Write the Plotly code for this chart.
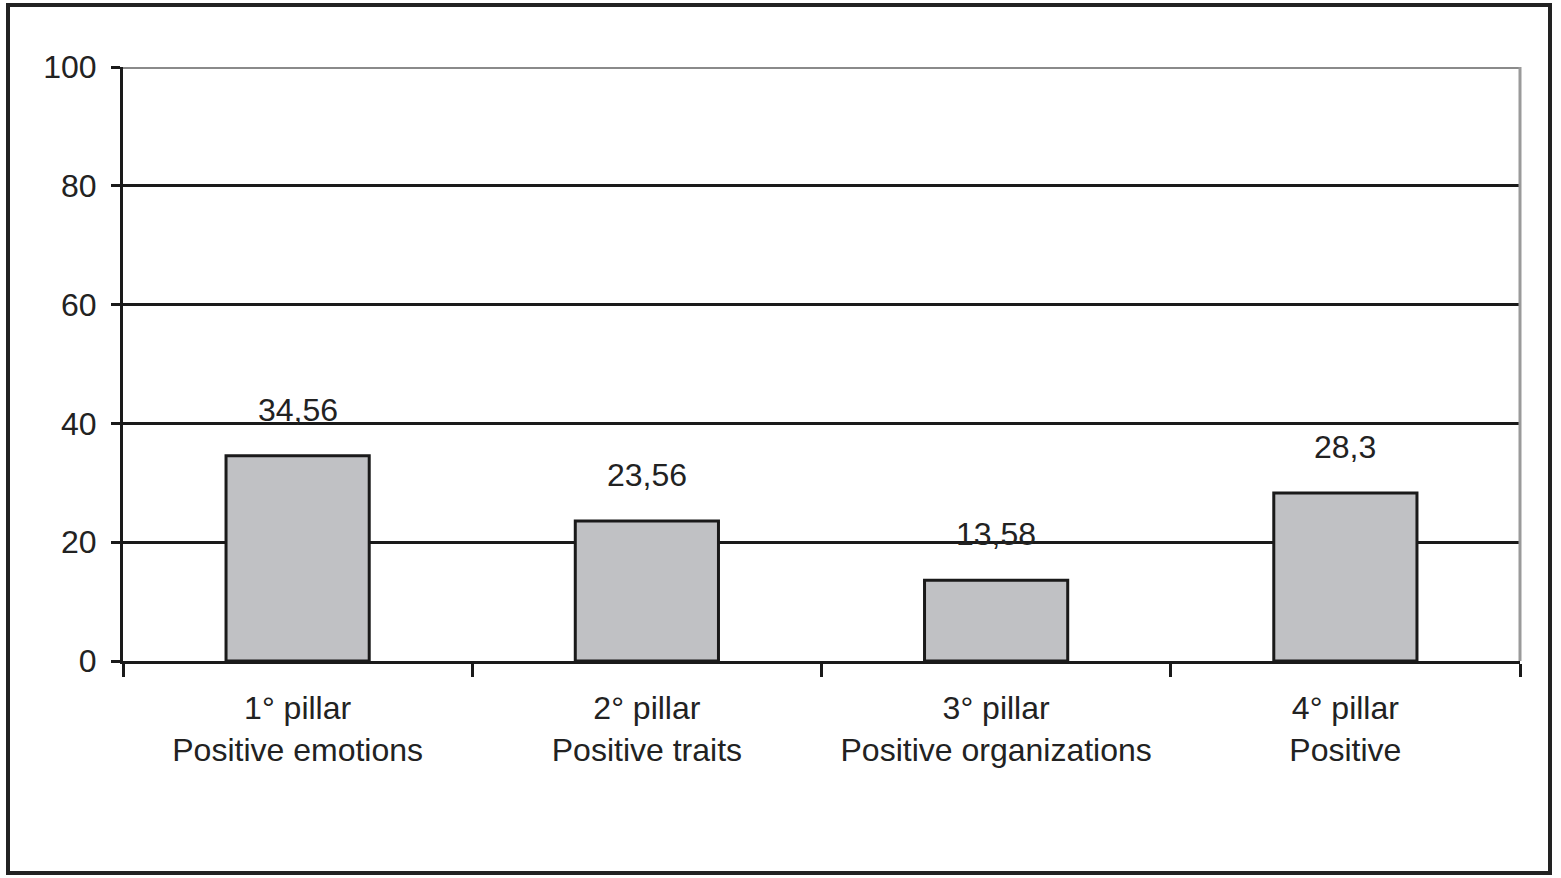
import plotly.graph_objects as go

categories = ["1° pillar<br>Positive emotions", "2° pillar<br>Positive traits",
              "3° pillar<br>Positive organizations", "4° pillar<br>Positive"]
values = [34.56, 23.56, 13.58, 28.3]
value_labels = ["34,56", "23,56", "13,58", "28,3"]
y_ticks = [0, 20, 40, 60, 80, 100]

W, H = 1561, 878
L, R, T, B = 123, 41, 67, 217
pw, ph = W - L - R, H - T - B

FONT = "Liberation Sans, Arial, sans-serif"
TXT = "#222222"
FS = 32

fig = go.Figure()
fig.add_trace(go.Bar(
    x=categories, y=values, width=0.41,
    marker=dict(color="#c0c1c4", line=dict(color="#1a1a1a", width=3)),
    hoverinfo="skip",
))

for c, v, t in zip(categories, values, value_labels):
    fig.add_annotation(x=c, y=v, text=t, showarrow=False, yanchor="middle",
                       yshift=46, font=dict(family=FONT, size=FS, color=TXT))

def px_x(p):
    return (p - L) / pw

def px_y(p):
    return (H - B - p) / ph

shapes = [
    dict(type="line", xref="paper", yref="y", x0=0, x1=1, y0=100, y1=100,
         line=dict(color="#8a8a8a", width=4), layer="above"),
    dict(type="line", xref="paper", yref="paper", x0=1, x1=1, y0=0, y1=1,
         line=dict(color="#9a9a9a", width=3), layer="above"),
    dict(type="rect", xref="paper", yref="paper",
         x0=px_x(8), x1=px_x(1550), y0=px_y(873), y1=px_y(5),
         line=dict(color="#222222", width=4), fillcolor="rgba(0,0,0,0)", layer="above"),
]

fig.update_layout(
    width=W, height=H,
    margin=dict(l=L, r=R, t=T, b=B),
    paper_bgcolor="white", plot_bgcolor="white",
    showlegend=False,
    shapes=shapes,
    font=dict(family=FONT, size=FS, color=TXT),
)
fig.update_xaxes(
    type="category", tickson="boundaries", ticks="outside", ticklen=13,
    tickwidth=3, tickcolor="#1a1a1a",
    showline=True, linecolor="#1a1a1a", linewidth=3,
    showgrid=False, tickfont=dict(family=FONT, size=FS, color=TXT),
    ticklabelstandoff=17,
)
fig.update_yaxes(
    range=[0, 100], tickvals=y_ticks, ticks="outside", ticklen=9, tickwidth=3,
    tickcolor="#1a1a1a", showline=True, linecolor="#1a1a1a", linewidth=3,
    showgrid=True, gridcolor="#1a1a1a", gridwidth=3, zeroline=False,
    tickfont=dict(family=FONT, size=FS, color=TXT), ticklabelstandoff=8,
)

fig.write_html("out.html",
               config={"displayModeBar": False},
               post_script="document.body.style.margin='0';document.body.style.overflow='hidden';")
